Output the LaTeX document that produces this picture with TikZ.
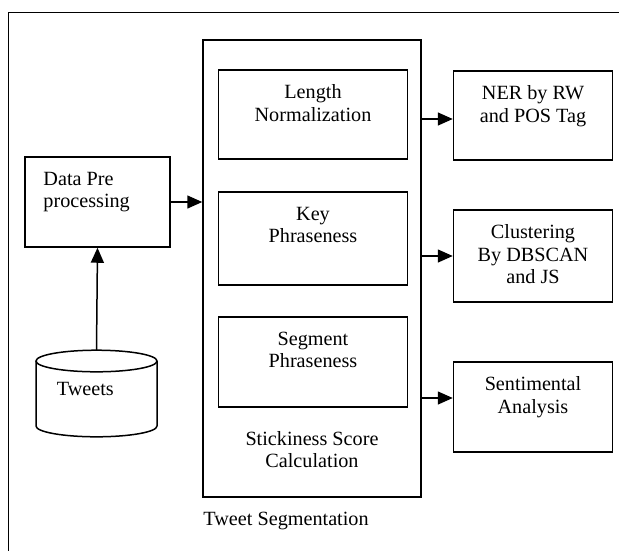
\documentclass[tikz,border=0pt]{standalone}
\usepackage{fontspec}
\setmainfont{Liberation Serif}
\usetikzlibrary{arrows.meta}
\tikzstyle{block}=[draw,line width=1.5pt,inner sep=0pt]
\tikzstyle{inner}=[block,minimum width=189pt]
\tikzstyle{outbox}=[block,minimum width=159pt]
\tikzstyle{intext}=[align=center,anchor=north,inner sep=0pt,yshift=-15.5pt]
\tikzstyle{link}=[line width=1.5pt,-{Triangle[length=15pt,width=13pt]}]

\begin{document}
\begin{tikzpicture}[x=1pt,y=-1pt,font=\fontsize{20.2}{22.5}\selectfont]
  \useasboundingbox (0,0) rectangle (619,550);
  \draw[line width=1pt] (8,12) rectangle (640,570);

  % tweet segmentation
  \node[block,minimum width=218pt,minimum height=457pt,
    label={[align=center,anchor=north,inner sep=0pt,yshift=66.5pt]south:Stickiness Score\\Calculation},
    label={[anchor=base west,inner sep=0pt,xshift=1pt,yshift=-27.3pt]south west:Tweet Segmentation}]
    (seg) at (312,268.5) {};
  \node[inner,minimum height=89pt,label={[intext]north:Length\\Normalization}] (len) at (313,114.5) {};
  \node[inner,minimum height=93pt,label={[intext]north:Key\\Phraseness}] (key) at (313,238.5) {};
  \node[inner,minimum height=90pt,label={[intext]north:Segment\\Phraseness}] (segph) at (313,362) {};

  % input side
  \node[block,minimum width=145pt,minimum height=90pt,
    label={[intext,align=left,anchor=north west,xshift=19pt]north west:Data Pre\\processing}]
    (data) at (97.5,202) {};
  % tweets store
  \draw[line width=1.5pt] (96.5,361) ellipse [x radius=60.5,y radius=10.8];
  \draw[line width=1.5pt] (36,361) -- (36,426) arc [start angle=180,end angle=0,x radius=60.5,y radius=10.8] -- (157,361);
  \coordinate (dbtop) at (96.5,350.2);
  \node[anchor=base west,inner sep=0pt] (tweets) at (56.7,395.7) {Tweets};

  % output side
  \node[outbox,minimum height=89pt,label={[intext]north:NER by RW\\and POS Tag}] (ner) at (533,115.5) {};
  \node[outbox,minimum height=92pt,label={[intext]north:Clustering\\By DBSCAN\\and JS}] (clus) at (533,256) {};
  \node[outbox,minimum height=90pt,label={[intext]north:Sentimental\\Analysis}] (sent) at (533,407) {};

  \draw[link] (dbtop) -- (data.south);
  \draw[link] (data.east) -- (data.east -| seg.west);
  \draw[link] (seg.east |- 0,119) -- (ner.west |- 0,119);
  \draw[link] (seg.east |- clus.west) -- (clus.west);
  \draw[link] (seg.east |- 0,398) -- (sent.west |- 0,398);
\end{tikzpicture}
\end{document}
